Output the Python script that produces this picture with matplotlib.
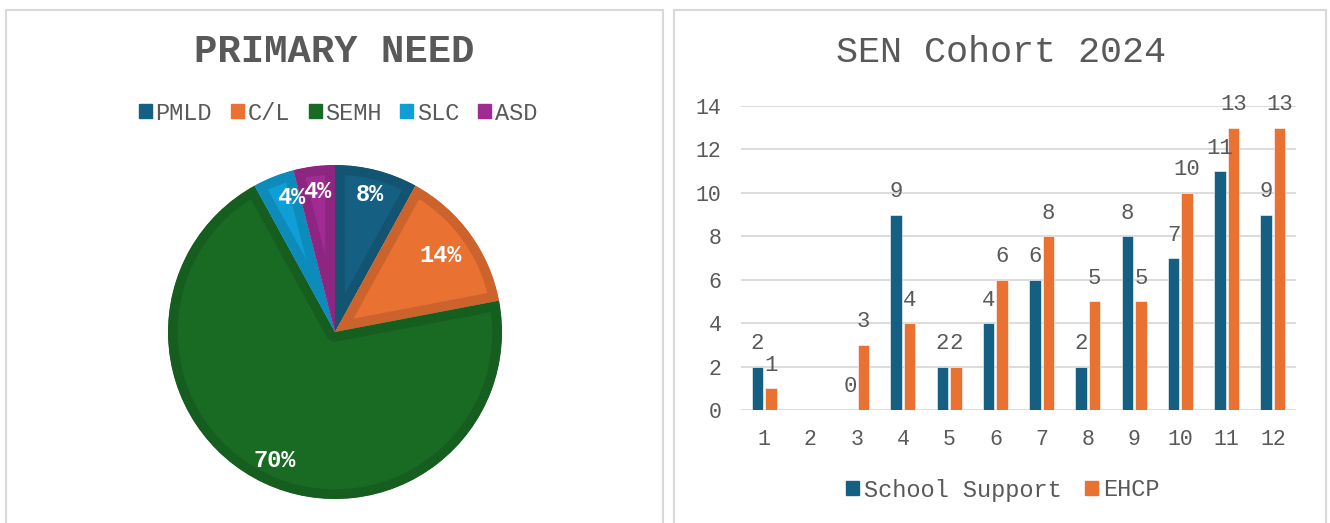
import numpy as np
import matplotlib
matplotlib.use("Agg")
import matplotlib.pyplot as plt
from matplotlib.patches import Rectangle
from matplotlib.colors import to_rgb

# ---------------- data ----------------
pie_labels = ["PMLD", "C/L", "SEMH", "SLC", "ASD"]
pie_values = [8, 14, 70, 4, 4]
pie_colors = ["#156082", "#E97132", "#196B24", "#0F9ED5", "#A02B93"]

groups = ["1", "2", "3", "4", "5", "6", "7", "8", "9", "10", "11", "12"]
school_support = [2, np.nan, 0, 9, 2, 4, 6, 2, 8, 7, 11, 9]
ehcp = [1, np.nan, 3, 4, 2, 6, 8, 5, 5, 10, 13, 13]
series_names = ["School Support", "EHCP"]
bar_colors = ["#156082", "#E97132"]
yticks = [0, 2, 4, 6, 8, 10, 12, 14]

left_title = "PRIMARY NEED"
right_title = "SEN Cohort 2024"

# ---------------- style ----------------
W, H = 1330, 523
DPI = 100
FONT = ["Liberation Mono", "DejaVu Sans Mono"]
TXT = "#595959"
plt.rcParams["font.family"] = FONT

fig = plt.figure(figsize=(W / DPI, H / DPI), dpi=DPI)
fig.patch.set_facecolor("white")


def fx(px):
    return px / W


def fy(py):
    return 1 - py / H


# panel borders
for x0, x1 in [(6, 663), (674, 1326)]:
    fig.add_artist(Rectangle((fx(x0), fy(540)), fx(x1 - x0), (540 - 10) / H,
                             transform=fig.transFigure, fill=False,
                             edgecolor="#d9d9d9", linewidth=1.5))


def darker(c, f=0.88):
    r, g, b = to_rgb(c)
    return (r * f, g * f, b * f)


def rotate(pos, deg):
    a = np.deg2rad(deg)
    x, y = pos
    return (x * np.cos(a) - y * np.sin(a), x * np.sin(a) + y * np.cos(a))


# ---------------- pie ----------------
cx, cy, R = 335, 332, 167
ax_p = fig.add_axes([fx(cx - R), fy(cy + R), fx(2 * R), 2 * R / H])
wedges, texts, autotexts = ax_p.pie(
    pie_values, colors=pie_colors, startangle=90, counterclock=False,
    autopct=lambda p: f"{p:.0f}%", pctdistance=0.85, radius=1,
    wedgeprops=dict(linewidth=0),
    textprops=dict(color="white", fontsize=17, fontweight="bold", family=FONT))
ax_p.set_xlim(-1, 1)
ax_p.set_ylim(-1, 1)
ax_p.set_aspect("equal")
ax_p.axis("off")
for w, c in zip(wedges, pie_colors):
    w.set_edgecolor(darker(c))
    w.set_linewidth(14)
    w.set_joinstyle("round")
    w.set_clip_on(True)
    w.set_clip_box(None)
    w.set_clip_path(w)
# small label nudges (C/L closer to centre, SLC slightly clockwise)
x, y = autotexts[1].get_position()
autotexts[1].set_position((x * 0.92, y * 0.92))
autotexts[3].set_position(rotate(autotexts[3].get_position(), -3.5))

fig.text(fx(334), fy(52), left_title, ha="center", va="center",
         fontsize=28, fontweight="bold", color=TXT)

handles = [Rectangle((0, 0), 1, 1, color=c) for c in pie_colors]
fig.legend(handles, pie_labels, loc="center", bbox_to_anchor=(fx(338), fy(113)),
           ncol=5, frameon=False, fontsize=17, labelcolor=TXT,
           handlelength=0.55, handleheight=0.55, handletextpad=0.15,
           columnspacing=0.8)

# ---------------- bars ----------------
x_l, x_r, y0, y14 = 741, 1296, 410, 106
ax_b = fig.add_axes([fx(x_l), fy(y0), fx(x_r - x_l), (y0 - y14) / H])
xs = np.arange(len(groups))
bw = 0.25
off = 0.145
for vals, sgn, col, name in [(school_support, -1, bar_colors[0], series_names[0]),
                             (ehcp, 1, bar_colors[1], series_names[1])]:
    ax_b.bar(xs + sgn * off, vals, width=bw, color=col, label=name,
             edgecolor="white", linewidth=0.4, zorder=3)
    for xi, v in zip(xs, vals):
        if np.isnan(v):
            continue
        ax_b.annotate(f"{v:.0f}", (xi + sgn * off, v), xytext=(0, 9),
                      textcoords="offset points", ha="center", va="bottom",
                      fontsize=16, color=TXT, zorder=4)

ax_b.set_xlim(-0.5, len(groups) - 0.5)
ax_b.set_ylim(0, 14)
ax_b.set_yticks(yticks)
ax_b.set_xticks(xs)
ax_b.set_xticklabels(groups)
ax_b.grid(axis="y", color="#d9d9d9", linewidth=1.3, zorder=0)
ax_b.set_axisbelow(True)
for s in ax_b.spines.values():
    s.set_visible(False)
ax_b.tick_params(axis="both", length=0, labelsize=15.5, labelcolor=TXT)
ax_b.tick_params(axis="y", pad=14)
ax_b.tick_params(axis="x", pad=14)
ax_b.set_facecolor("none")

fig.text(fx(1001), fy(52), right_title, ha="center", va="center",
         fontsize=26.5, color=TXT)

h2 = [Rectangle((0, 0), 1, 1, color=c) for c in bar_colors]
fig.legend(h2, series_names, loc="center", bbox_to_anchor=(fx(1003), fy(490)),
           ncol=2, frameon=False, fontsize=17, labelcolor=TXT,
           handlelength=0.55, handleheight=0.55, handletextpad=0.2,
           columnspacing=1.0)

fig.savefig("out.png", dpi=DPI, facecolor="white")
